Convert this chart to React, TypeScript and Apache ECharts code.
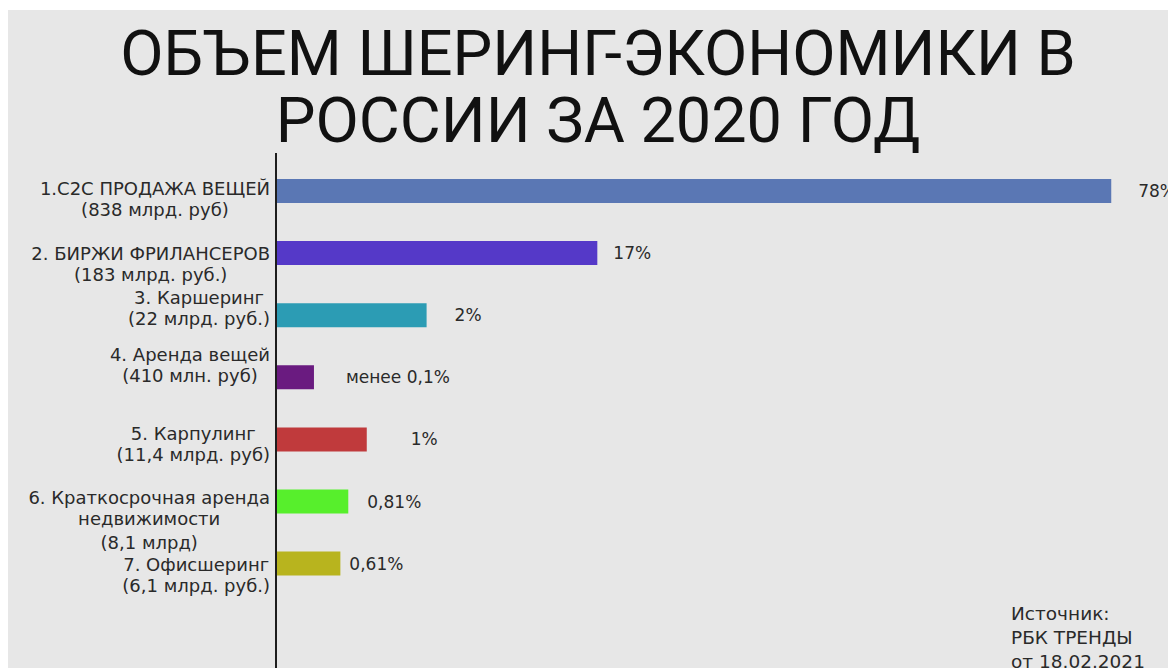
import React, { useEffect, useRef } from "react";
import * as echarts from "echarts";

const titleLines = ["ОБЪЕМ ШЕРИНГ-ЭКОНОМИКИ В", "РОССИИ ЗА 2020 ГОД"];
const categories = [
  "1.C2C ПРОДАЖА ВЕЩЕЙ\n(838 млрд. руб)",
  "2. БИРЖИ ФРИЛАНСЕРОВ\n(183 млрд. руб.)",
  "3. Каршеринг\n(22 млрд. руб.)",
  "4. Аренда вещей\n(410 млн. руб)",
  "5. Карпулинг\n(11,4 млрд. руб)",
  "6. Краткосрочная аренда\nнедвижимости\n(8,1 млрд)",
  "7. Офисшеринг\n(6,1 млрд. руб.)",
];
// drawn bar lengths, in percent of the value axis (the infographic's bars are not to scale)
const barLengths = [94.8, 36.4, 17.0, 4.2, 10.2, 8.1, 7.2];
// printed share labels
const shareLabels = ["78%", "17%", "2%", "менее 0,1%", "1%", "0,81%", "0,61%"];
const sourceLines = ["Источник:", "РБК ТРЕНДЫ", "от 18.02.2021"];

// styling
const barColors = ["#5a77b4", "#5539c8", "#2c9cb4", "#6a1b80", "#c03a3c", "#57ef2c", "#b8b41e"];
const labelGaps = [27, 16, 28, 32, 44, 19, 9];
const labelShift = [6, 9.4, -5.7, -10.8, 3.1, 16.5, 9.9];

const TEXT = "#2a2a2a";
const FONT = "DejaVu Sans";
const LH = 24;

export default function App() {
  const ref = useRef<HTMLDivElement>(null);
  useEffect(() => {
    if (!ref.current) return;
    const chart = echarts.init(ref.current, undefined, { renderer: "svg" });
    const base = { fontFamily: FONT, fontSize: 18, color: TEXT, lineHeight: LH, align: "center" };
    const rich: any = { m: base };
    labelShift.forEach((d, i) => {
      rich["f" + i] =
        d > 0 ? { ...base, lineHeight: LH + 2 * d, verticalAlign: "bottom" } : base;
      rich["l" + i] =
        d < 0 ? { ...base, lineHeight: LH - 2 * d, verticalAlign: "top" } : base;
    });
    chart.setOption({
      animation: false,
      backgroundColor: "#e7e7e7",
      grid: { left: 269, width: 880, top: 149.95, bottom: 73.35, containLabel: false },
      xAxis: {
        type: "value",
        min: 0,
        max: 100,
        show: false,
      },
      yAxis: {
        type: "category",
        inverse: true,
        data: categories,
        axisLine: { show: false },
        axisTick: { show: false },
        splitLine: { show: false },
        axisLabel: {
          interval: 0,
          margin: 7,
          align: "right",
          rich,
          formatter: (v: string, idx: number) => {
            const lines = v.split("\n");
            return lines
              .map((l, k) => {
                const s = k === 0 ? "f" + idx : k === lines.length - 1 ? "l" + idx : "m";
                return `{${s}|${l}}`;
              })
              .join("\n");
          },
        },
      },
      series: [
        {
          type: "bar",
          barWidth: 24,
          data: barLengths.map((v, i) => ({
            value: v,
            itemStyle: { color: barColors[i] },
            label: {
              show: true,
              position: "right",
              distance: labelGaps[i],
              formatter: shareLabels[i],
              fontFamily: FONT,
              fontSize: 17,
              color: TEXT,
            },
          })),
        },
      ],
      graphic: [
        {
          type: "text",
          x: 590,
          y: 10,
          style: {
            text: titleLines.join("\n"),
            align: "center",
            verticalAlign: "top",
            fontFamily: "Roboto",
            fontSize: 63,
            lineHeight: 67,
            fill: "#111111",
          },
        },
        {
          type: "line",
          shape: { x1: 268, y1: 143, x2: 268, y2: 658 },
          style: { stroke: "#1e1e1e", lineWidth: 2 },
        },
        {
          type: "text",
          x: 1003,
          y: 591,
          style: {
            text: sourceLines.join("\n"),
            align: "left",
            verticalAlign: "top",
            fontFamily: FONT,
            fontSize: 18.5,
            lineHeight: 24,
            fill: TEXT,
          },
        },
      ],
    });
    return () => chart.dispose();
  }, []);
  return <div ref={ref} style={{ width: 1168, height: 658, marginTop: 2 }} />;
}
